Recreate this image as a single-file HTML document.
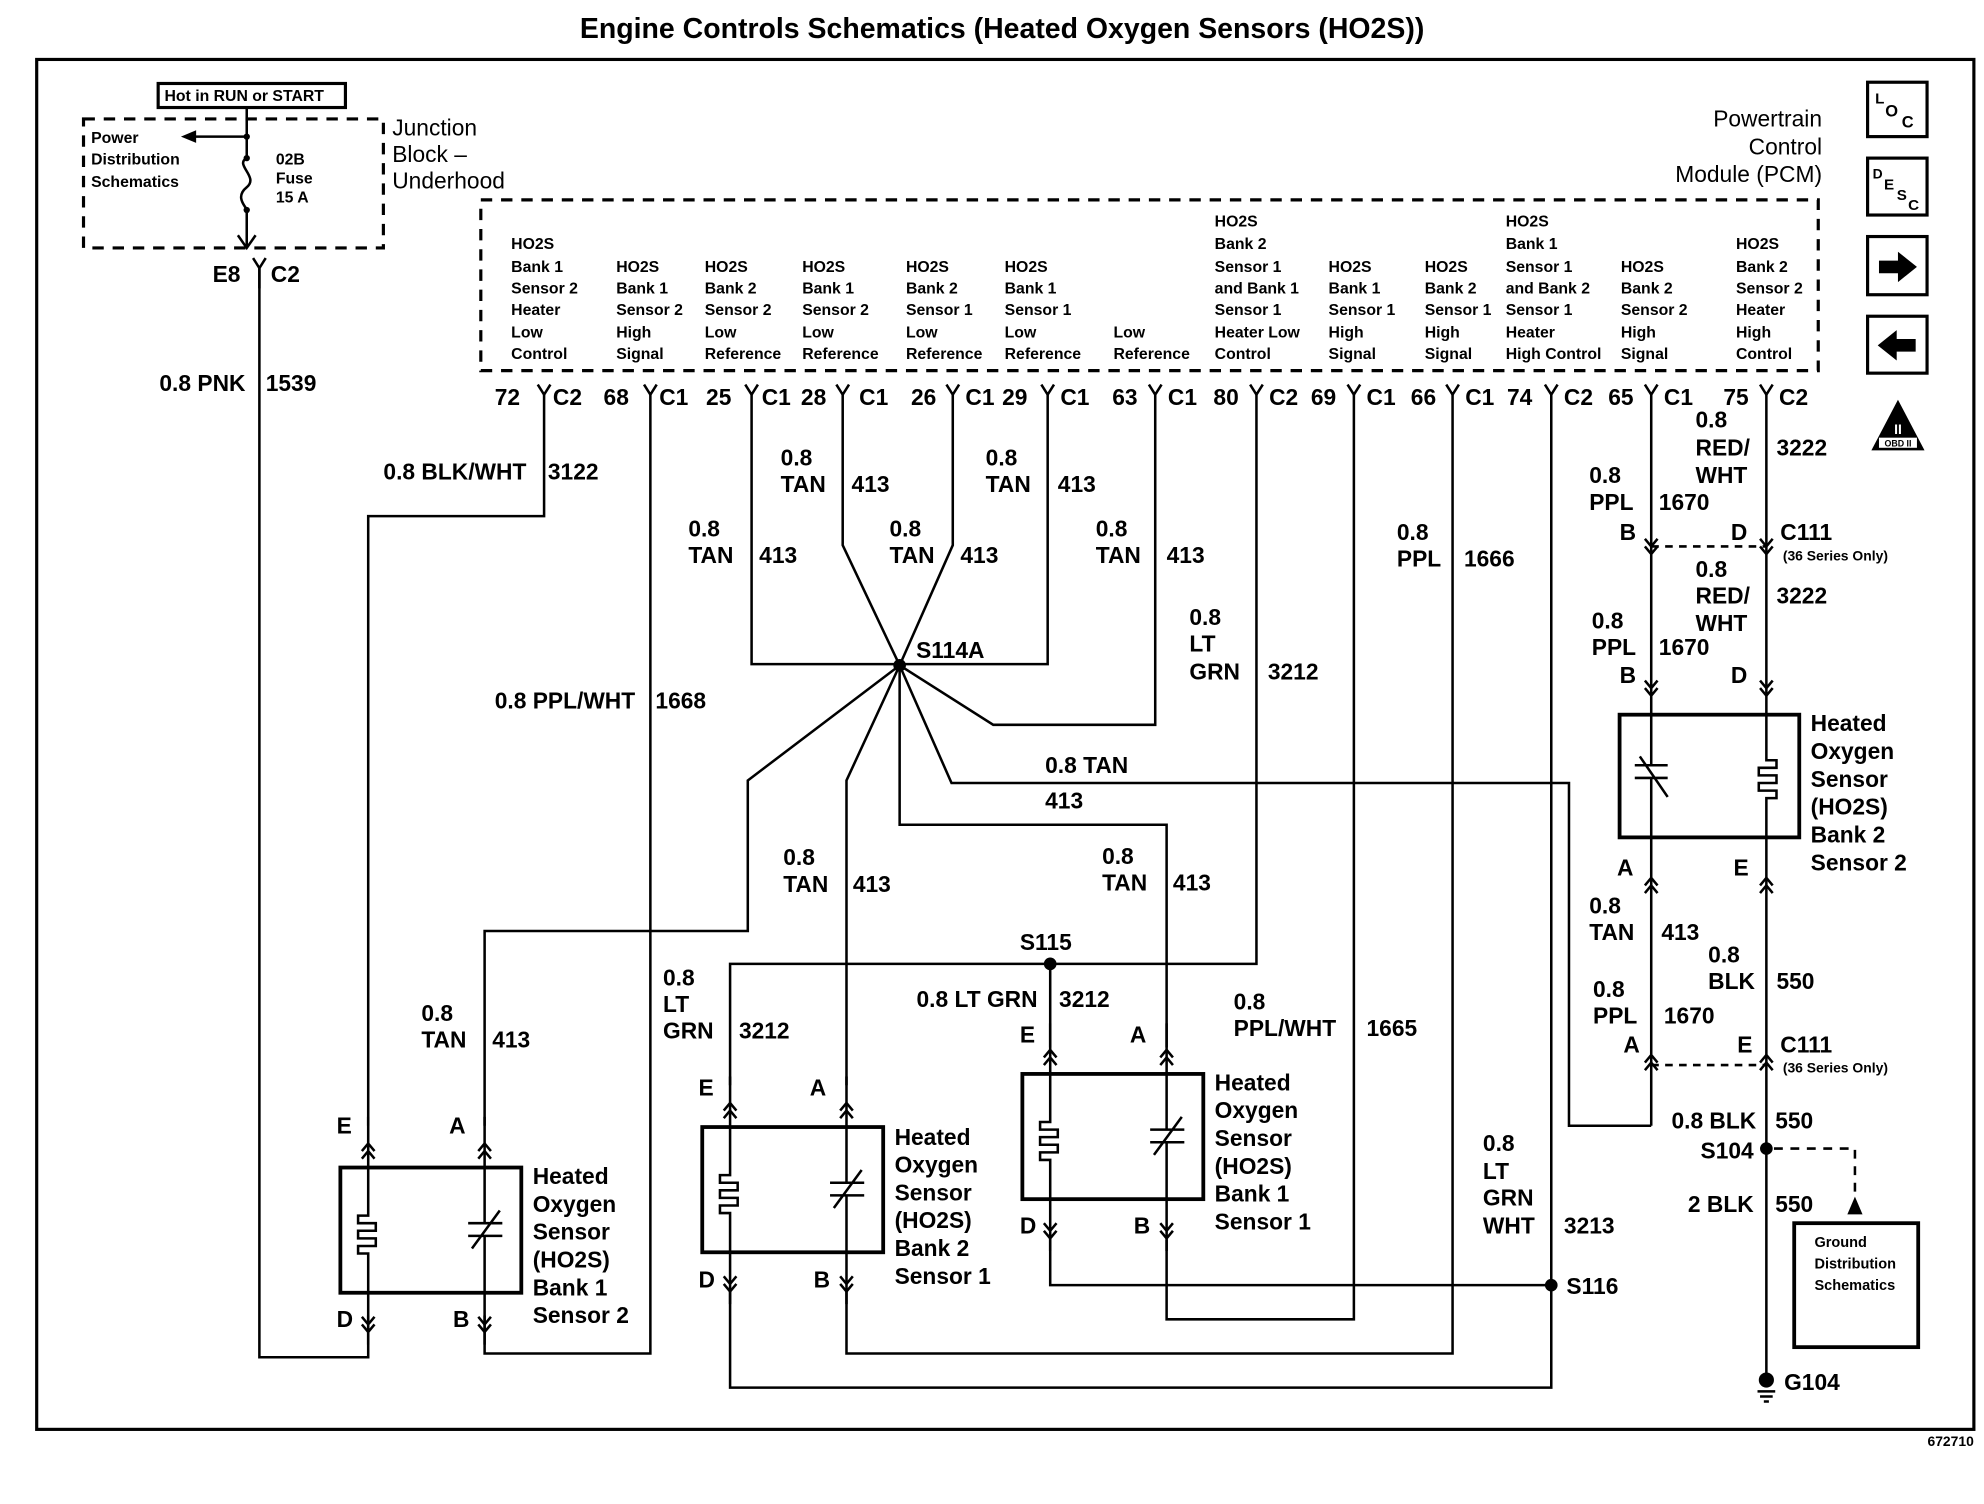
<!DOCTYPE html>
<html><head><meta charset="utf-8"><style>
html,body{margin:0;padding:0;background:#fff}
svg{display:block}
text{font-family:"Liberation Sans",sans-serif;font-weight:bold;fill:#000}
.s{font-size:12.5px;font-weight:bold}
.m{font-size:18px}
</style></head><body>
<svg width="1984" height="1504" viewBox="0 0 1568 1189" preserveAspectRatio="none" xmlns="http://www.w3.org/2000/svg">
<defs>
<g id="sen" fill="none" stroke="#000" stroke-width="2">
<rect x="0" y="0" width="143" height="99" stroke-width="3"/>
<path d="M22,-40 V38 h-8 v6 h14 v6 h-14 v6 h14 v6 h-14 v6 h8 V140"/>
<path d="M114,-40 V44 M114,54 V140 M101,44 H128 M101,54 H128 M126,34 L104,64"/>
<path d="M17,-13 L22,-19 L27,-13 M17,-7 L22,-13 L27,-7 M109,-13 L114,-19 L119,-13 M109,-7 L114,-13 L119,-7"/>
<path d="M17,118 L22,124 L27,118 M17,124 L22,130 L27,124 M109,118 L114,124 L119,118 M109,124 L114,130 L119,124"/>
</g>
</defs>
<rect width="1568" height="1189" fill="#fff"/>
<text x="792" y="30" text-anchor="middle" style="font-size:22.5px">Engine Controls Schematics (Heated Oxygen Sensors (HO2S))</text>
<rect x="29" y="47" width="1531" height="1083" fill="none" stroke="#000" stroke-width="2.5"/>
<text x="1560" y="1143" text-anchor="end" class="s" style="font-size:11px">672710</text>

<rect x="125" y="66" width="148" height="19" fill="none" stroke="#000" stroke-width="2.5"/>
<text x="130" y="80" class="s">Hot in RUN or START</text>
<rect x="66" y="94" width="237" height="102" fill="none" stroke="#000" stroke-width="2.5" stroke-dasharray="9,7"/>
<text class="s"><tspan x="72" y="113">Power</tspan><tspan x="72" y="130">Distribution</tspan><tspan x="72" y="148">Schematics</tspan></text>
<text class="s"><tspan x="218" y="130">02B</tspan><tspan x="218" y="145">Fuse</tspan><tspan x="218" y="160">15 A</tspan></text>
<g fill="none" stroke="#000" stroke-width="2">
<path d="M195,85 V108 M195,108 H150 M195,108 V125 C185,130 205,140 195,148 C185,156 195,164 195,166 V196"/>
<path d="M188,186 L195,196 L202,186"/>
</g>
<path d="M143,108 L155,103 L155,113 Z"/>
<circle cx="195" cy="108" r="2.5"/><circle cx="195" cy="125" r="2.5"/><circle cx="195" cy="166" r="2.5"/>
<text class="m" style="font-weight:normal;font-size:18px"><tspan x="310" y="107">Junction</tspan><tspan x="310" y="128">Block –</tspan><tspan x="310" y="149">Underhood</tspan></text>
<text x="168" y="223" class="m">E8</text><text x="214" y="223" class="m">C2</text>
<text x="194" y="309" class="m" text-anchor="end">0.8 PNK</text><text x="210" y="309" class="m">1539</text>

<text class="m" text-anchor="end" style="font-weight:normal"><tspan x="1440" y="100">Powertrain</tspan><tspan x="1440" y="122">Control</tspan><tspan x="1440" y="144">Module (PCM)</tspan></text>
<rect x="380" y="158" width="1057" height="135" fill="none" stroke="#000" stroke-width="2.5" stroke-dasharray="9,7"/>
<g class="s">
<text><tspan x="404" y="197">HO2S</tspan><tspan x="404" y="215">Bank 1</tspan><tspan x="404" y="232">Sensor 2</tspan><tspan x="404" y="249">Heater</tspan><tspan x="404" y="267">Low</tspan><tspan x="404" y="284">Control</tspan></text>
<text><tspan x="487" y="215">HO2S</tspan><tspan x="487" y="232">Bank 1</tspan><tspan x="487" y="249">Sensor 2</tspan><tspan x="487" y="267">High</tspan><tspan x="487" y="284">Signal</tspan></text>
<text><tspan x="557" y="215">HO2S</tspan><tspan x="557" y="232">Bank 2</tspan><tspan x="557" y="249">Sensor 2</tspan><tspan x="557" y="267">Low</tspan><tspan x="557" y="284">Reference</tspan></text>
<text><tspan x="634" y="215">HO2S</tspan><tspan x="634" y="232">Bank 1</tspan><tspan x="634" y="249">Sensor 2</tspan><tspan x="634" y="267">Low</tspan><tspan x="634" y="284">Reference</tspan></text>
<text><tspan x="716" y="215">HO2S</tspan><tspan x="716" y="232">Bank 2</tspan><tspan x="716" y="249">Sensor 1</tspan><tspan x="716" y="267">Low</tspan><tspan x="716" y="284">Reference</tspan></text>
<text><tspan x="794" y="215">HO2S</tspan><tspan x="794" y="232">Bank 1</tspan><tspan x="794" y="249">Sensor 1</tspan><tspan x="794" y="267">Low</tspan><tspan x="794" y="284">Reference</tspan></text>
<text><tspan x="880" y="267">Low</tspan><tspan x="880" y="284">Reference</tspan></text>
<text><tspan x="960" y="179">HO2S</tspan><tspan x="960" y="197">Bank 2</tspan><tspan x="960" y="215">Sensor 1</tspan><tspan x="960" y="232">and Bank 1</tspan><tspan x="960" y="249">Sensor 1</tspan><tspan x="960" y="267">Heater  Low</tspan><tspan x="960" y="284">Control</tspan></text>
<text><tspan x="1050" y="215">HO2S</tspan><tspan x="1050" y="232">Bank 1</tspan><tspan x="1050" y="249">Sensor 1</tspan><tspan x="1050" y="267">High</tspan><tspan x="1050" y="284">Signal</tspan></text>
<text><tspan x="1126" y="215">HO2S</tspan><tspan x="1126" y="232">Bank 2</tspan><tspan x="1126" y="249">Sensor 1</tspan><tspan x="1126" y="267">High</tspan><tspan x="1126" y="284">Signal</tspan></text>
<text><tspan x="1190" y="179">HO2S</tspan><tspan x="1190" y="197">Bank 1</tspan><tspan x="1190" y="215">Sensor 1</tspan><tspan x="1190" y="232">and Bank 2</tspan><tspan x="1190" y="249">Sensor 1</tspan><tspan x="1190" y="267">Heater</tspan><tspan x="1190" y="284">High Control</tspan></text>
<text><tspan x="1281" y="215">HO2S</tspan><tspan x="1281" y="232">Bank 2</tspan><tspan x="1281" y="249">Sensor 2</tspan><tspan x="1281" y="267">High</tspan><tspan x="1281" y="284">Signal</tspan></text>
<text><tspan x="1372" y="197">HO2S</tspan><tspan x="1372" y="215">Bank 2</tspan><tspan x="1372" y="232">Sensor 2</tspan><tspan x="1372" y="249">Heater</tspan><tspan x="1372" y="267">High</tspan><tspan x="1372" y="284">Control</tspan></text>
</g>

<g class="m">
<text x="391" y="320">72</text><text x="437" y="320">C2</text>
<text x="477" y="320">68</text><text x="521" y="320">C1</text>
<text x="558" y="320">25</text><text x="602" y="320">C1</text>
<text x="633" y="320">28</text><text x="679" y="320">C1</text>
<text x="720" y="320">26</text><text x="763" y="320">C1</text>
<text x="792" y="320">29</text><text x="838" y="320">C1</text>
<text x="879" y="320">63</text><text x="923" y="320">C1</text>
<text x="959" y="320">80</text><text x="1003" y="320">C2</text>
<text x="1036" y="320">69</text><text x="1080" y="320">C1</text>
<text x="1115" y="320">66</text><text x="1158" y="320">C1</text>
<text x="1191" y="320">74</text><text x="1236" y="320">C2</text>
<text x="1271" y="320">65</text><text x="1315" y="320">C1</text>
<text x="1362" y="320">75</text><text x="1406" y="320">C2</text>
</g>
<g fill="none" stroke="#000" stroke-width="2">
<path d="M200,204 L205,212 L210,204 M205,212 V228"/>
<path d="M425,304 L430,312 L435,304 M509,304 L514,312 L519,304 M589,304 L594,312 L599,304 M661,304 L666,312 L671,304 M748,304 L753,312 L758,304 M823,304 L828,312 L833,304 M908,304 L913,312 L918,304 M988,304 L993,312 L998,304 M1065,304 L1070,312 L1075,304 M1143,304 L1148,312 L1153,304 M1221,304 L1226,312 L1231,304 M1300,304 L1305,312 L1310,304 M1391,304 L1396,312 L1401,304"/>

<path d="M205,212 V1073 H291 V1040"/>
<path d="M430,312 V408 H291 V890"/>
<path d="M514,312 V1070 H383 V1040"/>
<path d="M594,312 V525 H828 V312"/>
<path d="M666,312 V431 L711,526 L753,431 V312"/>
<path d="M913,312 V573 H785 L711,526"/>
<path d="M711,526 L591,617 V736 H383 V890"/>
<path d="M711,526 L669,617 V858"/>
<path d="M711,526 V652 H922 V828"/>
<path d="M711,526 L752,619 H1240 V890 H1305"/>
<path d="M993,312 V762 H577 V858"/>
<path d="M830,762 V828"/>
<path d="M1070,312 V1043 H922 V980"/>
<path d="M1148,312 V1070 H669 V1020"/>
<path d="M1226,312 V1097 H577 V1020"/>
<path d="M830,978 V1016 H1226"/>
<path d="M1305,312 V890"/>
<path d="M1396,312 V1090"/>
<path d="M1305,432 H1396" stroke-dasharray="6,5"/>
<path d="M1300,426 L1305,432 L1310,426 M1300,432 L1305,438 L1310,432 M1391,426 L1396,432 L1401,426 M1391,432 L1396,438 L1401,432"/>
<path d="M1300,538 L1305,544 L1310,538 M1300,544 L1305,550 L1310,544 M1391,538 L1396,544 L1401,538 M1391,544 L1396,550 L1401,544"/>
<path d="M1300,700 L1305,694 L1310,700 M1300,706 L1305,700 L1310,706 M1391,700 L1396,694 L1401,700 M1391,706 L1396,700 L1401,706"/>
<path d="M1300,840 L1305,834 L1310,840 M1300,846 L1305,840 L1310,846 M1391,840 L1396,834 L1401,840 M1391,846 L1396,840 L1401,846"/>
<path d="M1305,842 H1396" stroke-dasharray="6,5"/>
<path d="M1402,908 H1466 V945" stroke-dasharray="7,6"/>
<rect x="1418" y="967" width="98" height="98" stroke-width="3"/>
<path d="M1389,1100 H1403 M1391,1104 H1401 M1394,1108 H1398"/>
<rect x="1280" y="565" width="142" height="97" stroke-width="3" fill="#fff"/>
<path d="M1305,565 V605 M1305,615 V662 M1292,605 H1318 M1292,615 H1318 M1318,630 L1296,598"/>
<path d="M1396,565 V601 h8 v6 h-14 v6 h14 v6 h-14 v6 h14 v6 h-8 V662"/>
</g>
<path d="M1460,960 L1466,946 L1472,960 Z"/>
<circle cx="711" cy="526" r="5"/><circle cx="830" cy="762" r="5"/><circle cx="1226" cy="1016" r="5"/><circle cx="1396" cy="908" r="5"/><circle cx="1396" cy="1091" r="6"/>

<use href="#sen" x="269" y="923"/>
<use href="#sen" x="555" y="891"/>
<use href="#sen" x="808" y="849"/>

<g class="m" style="font-weight:normal">
<text><tspan x="421" y="936">Heated</tspan><tspan x="421" y="958">Oxygen</tspan><tspan x="421" y="980">Sensor</tspan><tspan x="421" y="1002">(HO2S)</tspan><tspan x="421" y="1024">Bank 1</tspan><tspan x="421" y="1046">Sensor 2</tspan></text>
<text><tspan x="707" y="905">Heated</tspan><tspan x="707" y="927">Oxygen</tspan><tspan x="707" y="949">Sensor</tspan><tspan x="707" y="971">(HO2S)</tspan><tspan x="707" y="993">Bank 2</tspan><tspan x="707" y="1015">Sensor 1</tspan></text>
<text><tspan x="960" y="862">Heated</tspan><tspan x="960" y="884">Oxygen</tspan><tspan x="960" y="906">Sensor</tspan><tspan x="960" y="928">(HO2S)</tspan><tspan x="960" y="950">Bank 1</tspan><tspan x="960" y="972">Sensor 1</tspan></text>
<text><tspan x="1431" y="578">Heated</tspan><tspan x="1431" y="600">Oxygen</tspan><tspan x="1431" y="622">Sensor</tspan><tspan x="1431" y="644">(HO2S)</tspan><tspan x="1431" y="666">Bank 2</tspan><tspan x="1431" y="688">Sensor 2</tspan></text>
</g>
<g class="m">
<text x="266" y="896">E</text><text x="355" y="896">A</text><text x="266" y="1049">D</text><text x="358" y="1049">B</text>
<text x="552" y="866">E</text><text x="640" y="866">A</text><text x="552" y="1018">D</text><text x="643" y="1018">B</text>
<text x="806" y="824">E</text><text x="893" y="824">A</text><text x="806" y="975">D</text><text x="896" y="975">B</text>
<text x="1280" y="427">B</text><text x="1368" y="427">D</text>
<text x="1280" y="540">B</text><text x="1368" y="540">D</text>
<text x="1278" y="692">A</text><text x="1370" y="692">E</text>
<text x="1283" y="832">A</text><text x="1373" y="832">E</text>

<text x="416" y="379" text-anchor="end">0.8 BLK/WHT</text><text x="433" y="379">3122</text>
<text x="502" y="560" text-anchor="end">0.8 PPL/WHT</text><text x="518" y="560">1668</text>
<text x="617" y="368">0.8</text><text x="617" y="389">TAN</text><text x="673" y="389">413</text>
<text x="779" y="368">0.8</text><text x="779" y="389">TAN</text><text x="836" y="389">413</text>
<text x="544" y="424">0.8</text><text x="544" y="445">TAN</text><text x="600" y="445">413</text>
<text x="703" y="424">0.8</text><text x="703" y="445">TAN</text><text x="759" y="445">413</text>
<text x="866" y="424">0.8</text><text x="866" y="445">TAN</text><text x="922" y="445">413</text>
<text x="724" y="520">S114A</text>
<text x="940" y="494">0.8</text><text x="940" y="515">LT</text><text x="940" y="537">GRN</text><text x="1002" y="537">3212</text>
<text x="1104" y="427">0.8</text><text x="1104" y="448">PPL</text><text x="1157" y="448">1666</text>
<text x="826" y="611">0.8 TAN</text><text x="826" y="639">413</text>
<text x="619" y="684">0.8</text><text x="619" y="705">TAN</text><text x="674" y="705">413</text>
<text x="871" y="683">0.8</text><text x="871" y="704">TAN</text><text x="927" y="704">413</text>
<text x="806" y="751">S115</text>
<text x="524" y="779">0.8</text><text x="524" y="800">LT</text><text x="524" y="821">GRN</text><text x="584" y="821">3212</text>
<text x="820" y="796" text-anchor="end">0.8 LT GRN</text><text x="837" y="796">3212</text>
<text x="975" y="798">0.8</text><text x="975" y="819">PPL/WHT</text><text x="1080" y="819">1665</text>
<text x="333" y="807">0.8</text><text x="333" y="828">TAN</text><text x="389" y="828">413</text>
<text x="1172" y="910">0.8</text><text x="1172" y="932">LT</text><text x="1172" y="953">GRN</text><text x="1172" y="975">WHT</text><text x="1236" y="975">3213</text>
<text x="1238" y="1023">S116</text>
<text x="1340" y="338">0.8</text><text x="1340" y="360">RED/</text><text x="1340" y="382">WHT</text><text x="1404" y="360">3222</text>
<text x="1256" y="382">0.8</text><text x="1256" y="403">PPL</text><text x="1311" y="403">1670</text>
<text x="1407" y="427">C111</text>
<text x="1340" y="456">0.8</text><text x="1340" y="477">RED/</text><text x="1340" y="499">WHT</text><text x="1404" y="477">3222</text>
<text x="1258" y="497">0.8</text><text x="1258" y="518">PPL</text><text x="1311" y="518">1670</text>
<text x="1256" y="722">0.8</text><text x="1256" y="743">TAN</text><text x="1313" y="743">413</text>
<text x="1350" y="761">0.8</text><text x="1350" y="782">BLK</text><text x="1404" y="782">550</text>
<text x="1259" y="788">0.8</text><text x="1259" y="809">PPL</text><text x="1315" y="809">1670</text>
<text x="1407" y="832">C111</text>
<text x="1388" y="892" text-anchor="end">0.8 BLK</text><text x="1403" y="892">550</text>
<text x="1386" y="916" text-anchor="end">S104</text>
<text x="1386" y="958" text-anchor="end">2 BLK</text><text x="1403" y="958">550</text>
<text x="1410" y="1099">G104</text>
</g>
<text x="1409" y="443" class="s" style="font-size:11px">(36 Series Only)</text>
<text x="1409" y="848" class="s" style="font-size:11px">(36 Series Only)</text>
<text class="s" style="font-size:11.5px"><tspan x="1434" y="986">Ground</tspan><tspan x="1434" y="1003">Distribution</tspan><tspan x="1434" y="1020">Schematics</tspan></text>

<g fill="none" stroke="#000" stroke-width="2.5">
<rect x="1476" y="65" width="47" height="43"/>
<rect x="1476" y="125" width="47" height="45"/>
<rect x="1476" y="187" width="47" height="46"/>
<rect x="1476" y="250" width="47" height="45"/>
</g>
<text x="1482" y="82" class="s" style="font-size:12px">L</text><text x="1490" y="92" class="s" style="font-size:13px">O</text><text x="1503" y="101" class="s" style="font-size:13px">C</text>
<text x="1480" y="141" class="s" style="font-size:11px">D</text><text x="1489" y="150" class="s" style="font-size:12px">E</text><text x="1499" y="158" class="s" style="font-size:12px">S</text><text x="1508" y="166" class="s" style="font-size:12px">C</text>
<path d="M1485,206 H1500 V199 L1515,211 L1500,223 V216 H1485 Z"/>
<path d="M1514,268 H1499 V261 L1484,273 L1499,285 V278 H1514 Z"/>
<path d="M1500,316 L1521,356 H1479 Z"/>
<text x="1500" y="343" text-anchor="middle" style="font-size:11px;fill:#fff">II</text>
<rect x="1485" y="346" width="30" height="8" fill="#fff"/>
<text x="1500" y="353" text-anchor="middle" style="font-size:7px">OBD II</text>
</svg>
</body></html>
